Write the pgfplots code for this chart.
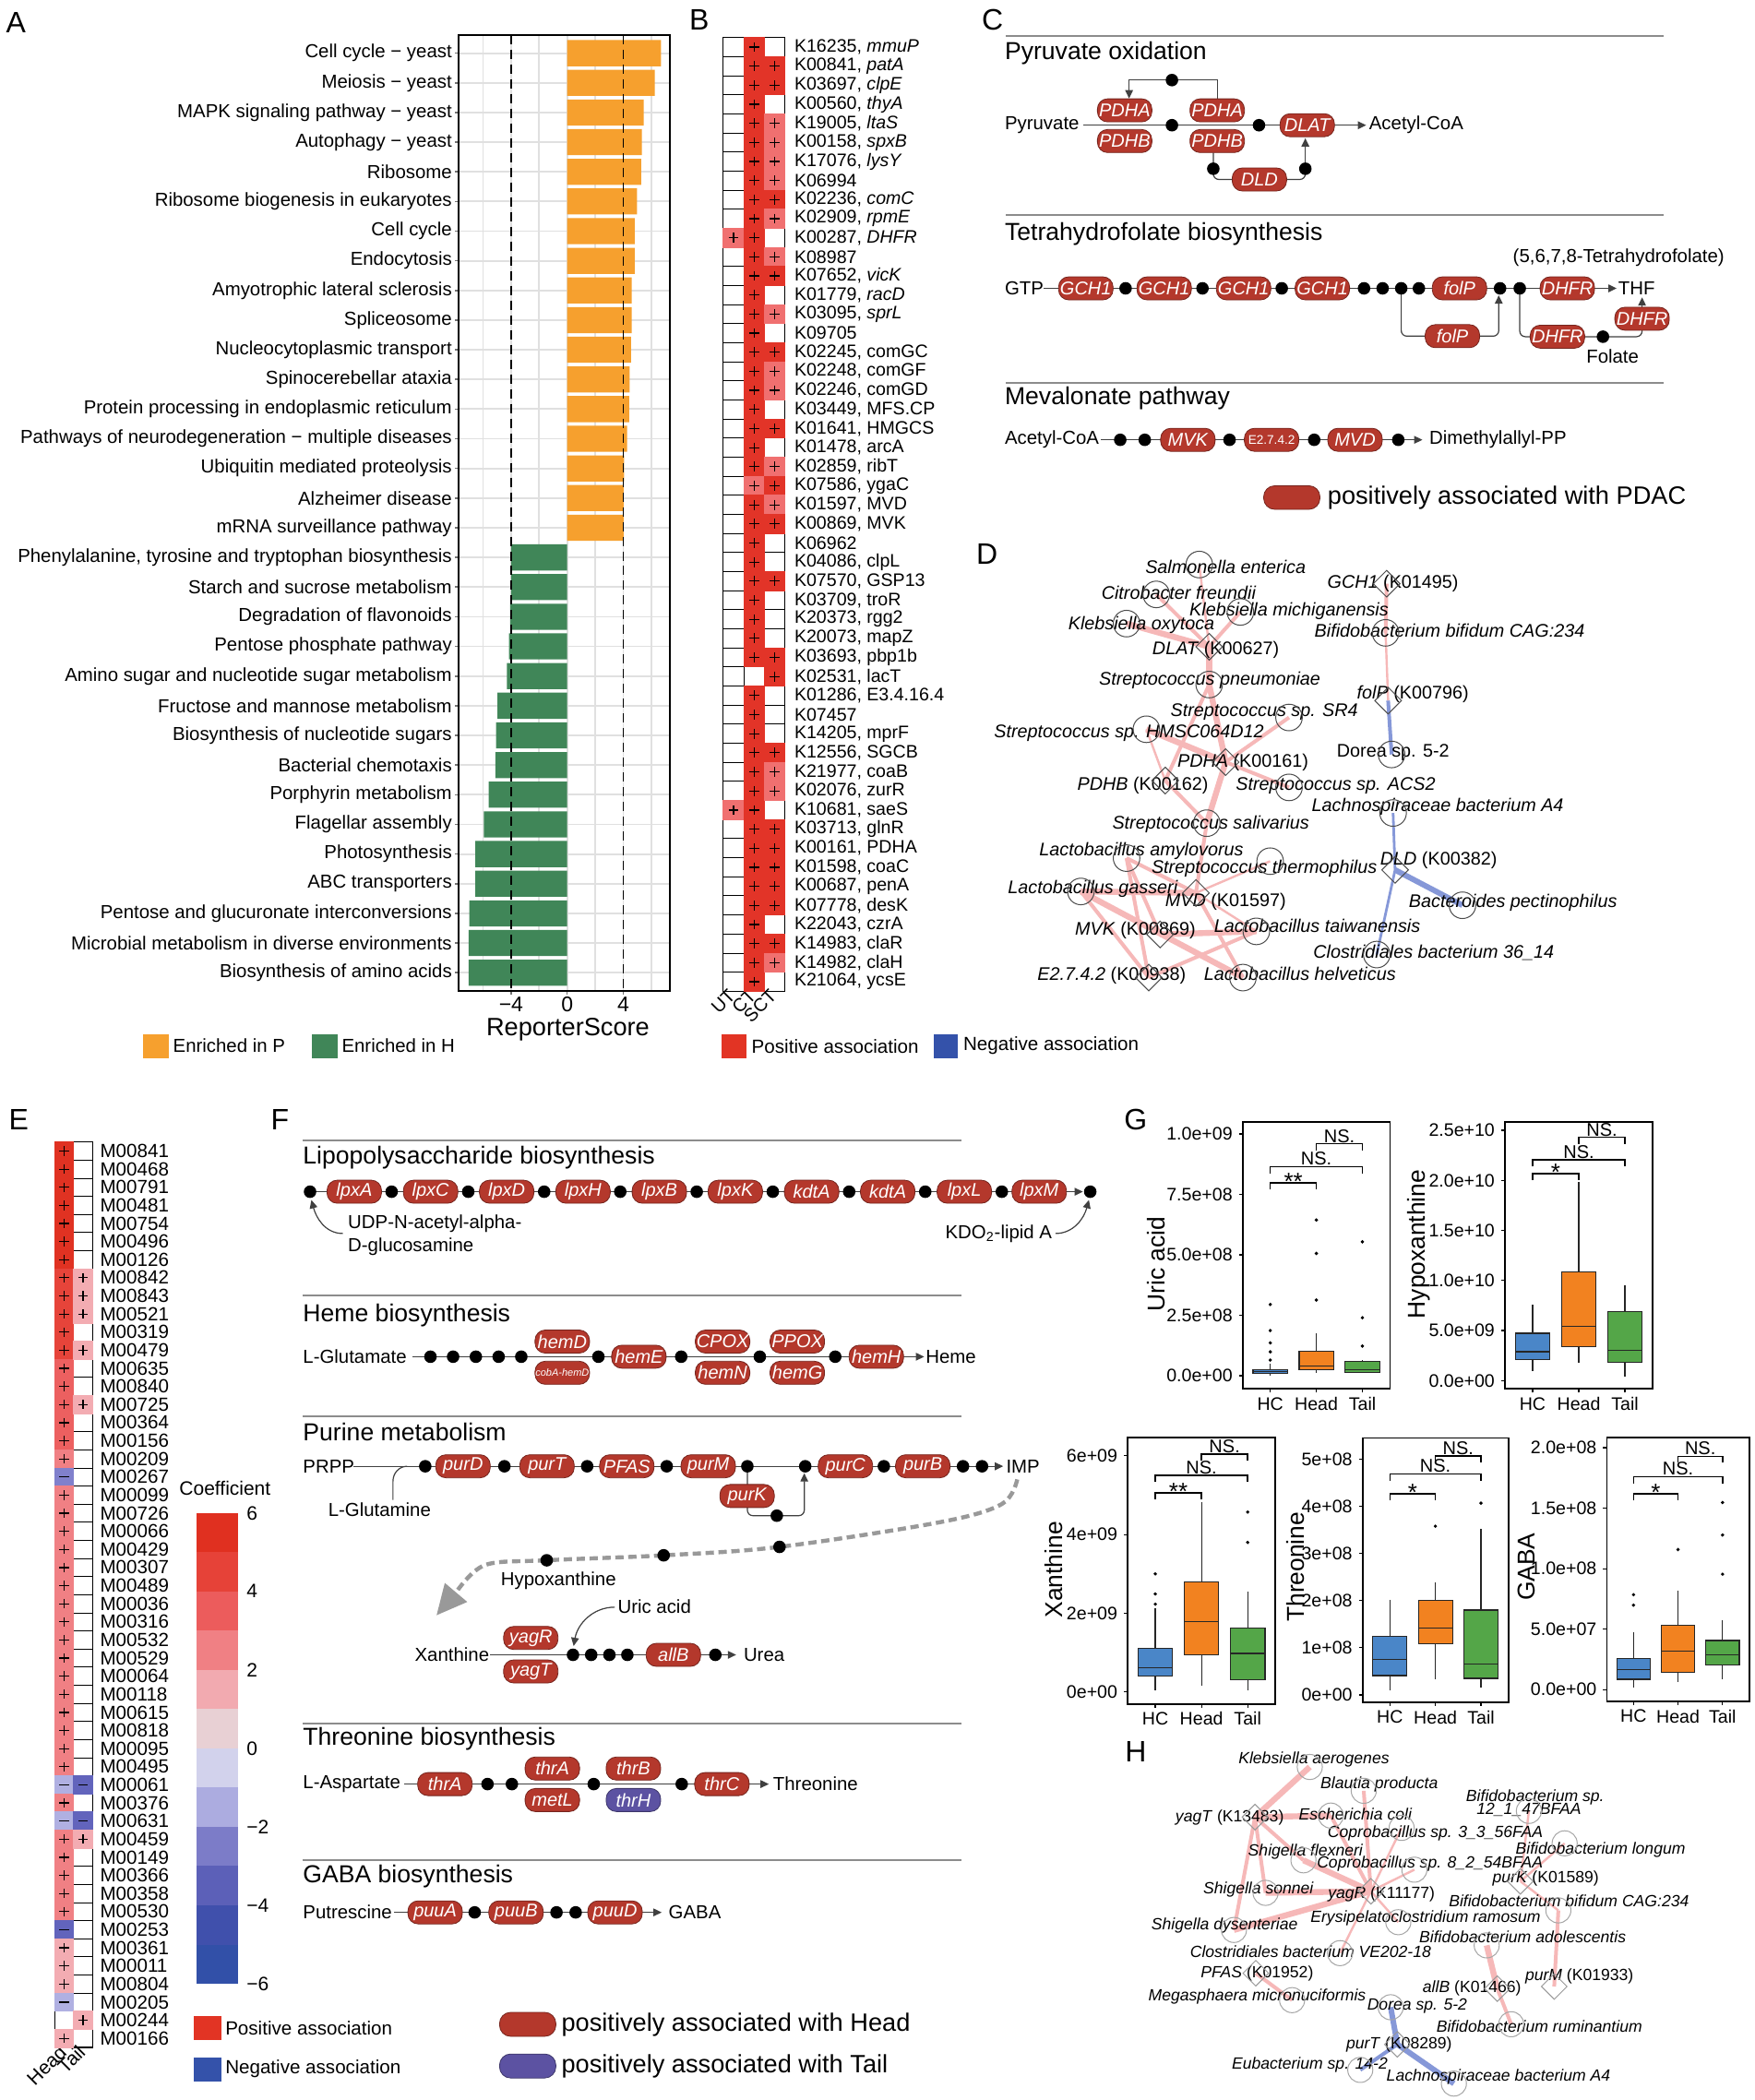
\documentclass[border=0pt]{standalone}
\usepackage{fontspec}
\setmainfont{Liberation Sans}
\setsansfont{Liberation Sans}
\usepackage{pgfplots}
\usepackage{pgfplotstable}
\pgfplotsset{compat=1.18}
\usepgfplotslibrary{statistics}
\usetikzlibrary{arrows.meta}

\newcommand\fs[1]{\fontsize{#1}{#1}\selectfont}

\definecolor{Aor}{RGB}{246,160,46}
\definecolor{Agr}{RGB}{64,134,88}
\definecolor{cD}{RGB}{226,52,40}
\definecolor{cL}{RGB}{240,112,112}
\definecolor{posR}{RGB}{226,52,36}
\definecolor{negB}{RGB}{52,82,170}
\definecolor{p6}{RGB}{224,50,34}
\definecolor{p5}{RGB}{230,68,58}
\definecolor{p4}{RGB}{236,96,96}
\definecolor{p3}{RGB}{240,128,132}
\definecolor{p2}{RGB}{243,172,178}
\definecolor{n2}{RGB}{176,176,226}
\definecolor{n3}{RGB}{128,128,204}
\definecolor{n4}{RGB}{98,100,188}
\definecolor{cb1}{RGB}{224,48,32}
\definecolor{cb2}{RGB}{230,66,56}
\definecolor{cb3}{RGB}{236,92,92}
\definecolor{cb4}{RGB}{240,128,132}
\definecolor{cb5}{RGB}{242,170,176}
\definecolor{cb6}{RGB}{232,208,212}
\definecolor{cb7}{RGB}{210,210,236}
\definecolor{cb8}{RGB}{172,172,224}
\definecolor{cb9}{RGB}{124,124,200}
\definecolor{cb10}{RGB}{92,96,184}
\definecolor{cb11}{RGB}{64,80,172}
\definecolor{cb12}{RGB}{50,80,168}
\definecolor{pillR}{RGB}{180,56,44}
\definecolor{pillB}{RGB}{92,82,162}
\definecolor{gB}{RGB}{74,134,200}
\definecolor{gO}{RGB}{242,130,32}
\definecolor{gG}{RGB}{84,166,72}
\definecolor{eP}{RGB}{246,184,184}
\definecolor{eB}{RGB}{134,152,216}

% panel B: cells with an association (x: 0=UT 1=CT 2=SCT, y: row, c: d=strong l=weak)
\pgfplotstableread[row sep=\\]{
x y c\\
0 11 l\\ 0 41 l\\
1 1 d\\ 1 2 d\\ 1 3 d\\ 1 4 d\\ 1 5 d\\ 1 6 d\\ 1 7 d\\ 1 8 d\\ 1 9 d\\ 1 10 d\\
1 11 d\\ 1 12 d\\ 1 13 d\\ 1 14 d\\ 1 15 d\\ 1 16 d\\ 1 17 d\\ 1 18 d\\ 1 19 d\\ 1 20 d\\
1 21 d\\ 1 22 d\\ 1 23 d\\ 1 24 l\\ 1 25 d\\ 1 26 d\\ 1 27 d\\ 1 28 d\\ 1 29 d\\ 1 30 d\\
1 31 d\\ 1 32 d\\ 1 33 d\\ 1 35 d\\ 1 36 d\\ 1 37 d\\ 1 38 d\\ 1 39 d\\ 1 40 d\\
1 41 d\\ 1 42 d\\ 1 43 d\\ 1 44 d\\ 1 45 d\\ 1 46 d\\ 1 47 d\\ 1 48 d\\ 1 49 d\\ 1 50 d\\
2 2 d\\ 2 3 d\\ 2 5 l\\ 2 6 l\\ 2 7 l\\ 2 8 l\\ 2 9 d\\ 2 10 l\\ 2 12 l\\ 2 13 d\\
2 15 l\\ 2 17 d\\ 2 18 l\\ 2 19 l\\ 2 21 d\\ 2 23 l\\ 2 24 d\\ 2 25 l\\ 2 26 d\\ 2 29 d\\
2 33 d\\ 2 34 d\\ 2 38 d\\ 2 39 l\\ 2 40 l\\ 2 42 d\\ 2 43 d\\ 2 44 d\\ 2 45 d\\ 2 46 d\\
2 48 d\\ 2 49 l\\
}\Bcells

% panel E: coefficient class per cell (x: 0=Head 1=Tail)
\pgfplotstableread[row sep=\\]{
x y c\\
0 1 p6\\ 0 2 p6\\ 0 3 p6\\ 0 4 p6\\ 0 5 p6\\ 0 6 p6\\ 0 7 p6\\
0 8 p5\\ 0 9 p5\\ 0 10 p5\\ 0 11 p5\\ 0 12 p5\\
0 13 p4\\ 0 14 p4\\ 0 15 p4\\ 0 16 p4\\ 0 17 p4\\ 0 18 p3\\ 0 19 n3\\
0 20 p3\\ 0 21 p3\\ 0 22 p3\\ 0 23 p3\\ 0 24 p3\\ 0 25 p3\\ 0 26 p3\\ 0 27 p3\\
0 28 p3\\ 0 29 p3\\ 0 30 p3\\ 0 31 p3\\ 0 32 p3\\ 0 33 p3\\ 0 34 p3\\ 0 35 p3\\
0 36 n2\\ 0 37 p3\\ 0 38 n2\\ 0 39 p3\\ 0 40 p3\\ 0 41 p3\\ 0 42 p3\\ 0 43 p3\\
0 44 n4\\ 0 45 p2\\ 0 46 p2\\ 0 47 p2\\ 0 48 n2\\ 0 50 p2\\
1 8 p2\\ 1 9 p2\\ 1 10 p2\\ 1 12 p2\\ 1 15 p2\\ 1 36 n4\\ 1 38 n4\\ 1 39 p2\\ 1 49 p2\\
}\Ecells

\pgfplotsset{
  gst/.style={scale only axis, xmin=0.4, xmax=3.6, xtick={1,2,3}, xticklabels={HC,Head,Tail},
    tick align=outside, tick pos=left, major tick length=2pt,
    tick style={black, line width=0.6pt}, axis line style={black, line width=0.9pt},
    clip=false, ticklabel style={font=\fs{9.8}}, xticklabel style={yshift=1pt},
    boxplot/draw direction=y, boxplot/box extend=0.75, boxplot/whisker extend=0},
  gbx/.style={fill=#1, draw=black!85, line width=0.6pt, mark=*, mark size=0.55pt,
    mark options={fill=black, draw=black}},
  eT/.style={color=eP, line width=3.2pt, no markers},
  eM/.style={color=eP, line width=2pt, no markers},
  eS/.style={color=eP, line width=1.2pt, no markers},
  bT/.style={color=eB, line width=3pt, no markers},
  bM/.style={color=eB, line width=2pt, no markers},
  bS/.style={color=eB, line width=1.4pt, no markers},
  nC/.style={only marks, mark=o, mark size=7.2pt, mark options={draw=black!70, line width=0.5pt}},
  nD/.style={only marks, mark=square, mark size=5.1pt, mark options={rotate=45, draw=black!70, line width=0.5pt}},
  nCh/.style={only marks, mark=o, mark size=6.8pt, mark options={draw=black!35, line width=0.5pt}},
  nDh/.style={only marks, mark=square, mark size=4.9pt, mark options={rotate=45, draw=black!40, line width=0.5pt}},
}

\begin{document}
\begin{tikzpicture}[x=0.726pt, y=-0.726pt,
  lbl/.style={font=\fs{16}, inner sep=0pt},
  ttl/.style={font=\fs{13.3}, anchor=west, inner sep=0pt},
  sub/.style={font=\fs{10.2}, inner sep=0pt},
  sep/.style={draw=black!45, line width=0.9pt},
  ln/.style={draw=black!75, line width=0.6pt},
  pill/.style={rectangle, rounded corners=5.5pt, fill=pillR, draw=pillR!65!black, line width=0.4pt,
    text=white, font=\itshape\fs{10}, minimum width=29.5pt, minimum height=12.5pt, inner sep=0pt},
  dot/.style={circle, fill=black, inner sep=0pt, minimum size=6.8pt},
  dl/.style={font=\itshape\fs{9.9}, inner sep=0pt},
  dg/.style={font=\fs{9.9}, inner sep=0pt},
  hl/.style={font=\itshape\fs{8.8}, inner sep=0pt},
  hg/.style={font=\fs{8.8}, inner sep=0pt},
  >={Triangle[length=4.5pt,width=4.2pt]}]
\useasboundingbox (0,0) rectangle (1310,1568);
\fill[white] (0,0) rectangle (1310,1568);

%% ---------------- A
\node[lbl] at (12,17) {A};
\coordinate (pA) at (342.5,740);
\begin{axis}[at={(pA)}, anchor=south west, scale only axis,
  width=114.3pt, height=518.4pt,
  xmin=-7.73, xmax=7.3, ymin=0.38, ymax=32.62, y dir=reverse,
  xtick={-4,0,4}, xticklabels={−4,0,4}, minor xtick={-6,-2,2,6},
  ytick={1,...,32},
  yticklabels={Cell cycle − yeast, Meiosis − yeast, MAPK signaling pathway − yeast,
    Autophagy − yeast, Ribosome, Ribosome biogenesis in eukaryotes, Cell cycle, Endocytosis,
    Amyotrophic lateral sclerosis, Spliceosome, Nucleocytoplasmic transport,
    Spinocerebellar ataxia, Protein processing in endoplasmic reticulum,
    Pathways of neurodegeneration − multiple diseases, Ubiquitin mediated proteolysis,
    Alzheimer disease, mRNA surveillance pathway,
    {Phenylalanine, tyrosine and tryptophan biosynthesis}, Starch and sucrose metabolism,
    Degradation of flavonoids, Pentose phosphate pathway,
    Amino sugar and nucleotide sugar metabolism, Fructose and mannose metabolism,
    Biosynthesis of nucleotide sugars, Bacterial chemotaxis, Porphyrin metabolism,
    Flagellar assembly, Photosynthesis, ABC transporters,
    Pentose and glucuronate interconversions, Microbial metabolism in diverse environments,
    Biosynthesis of amino acids},
  xmajorgrids, xminorgrids, ymajorgrids,
  major grid style={draw=black!12, line width=0.9pt},
  minor grid style={draw=black!12, line width=0.9pt},
  tick align=outside, tick pos=left, major tick length=2pt, minor tick length=0pt,
  tick style={black!55, line width=0.8pt},
  axis line style={black, line width=1pt},
  yticklabel style={font=\fs{10.2}, inner sep=1.5pt},
  xticklabel style={font=\fs{11.5}, inner sep=1pt},
  clip=false]
\addplot[xbar, bar width=0.88, bar shift=0pt, fill=Aor, draw=none] coordinates {
  (6.69,1) (6.24,2) (5.45,3) (5.33,4) (5.27,5) (4.97,6) (4.82,7) (4.82,8) (4.6,9)
  (4.6,10) (4.55,11) (4.45,12) (4.42,13) (4.27,14) (4.06,15) (4.03,16) (4.03,17)};
\addplot[xbar, bar width=0.88, bar shift=0pt, fill=Agr, draw=none] coordinates {
  (-4.0,18) (-4.0,19) (-4.06,20) (-4.15,21) (-4.3,22) (-4.97,23) (-5.06,24) (-5.12,25)
  (-5.6,26) (-5.94,27) (-6.55,28) (-6.55,29) (-6.97,30) (-7.03,31) (-7.03,32)};
\draw[black, line width=0.8pt, dash pattern=on 5pt off 3pt] (axis cs:-4,0.38) -- (axis cs:-4,32.62);
\draw[black, line width=0.8pt, dash pattern=on 5pt off 3pt] (axis cs:4,0.38) -- (axis cs:4,32.62);
\end{axis}
\node[font=\fs{13.6}] at (424,768.5) {ReporterScore};
\fill[Aor] (107,772) rectangle (126,790);
\node[anchor=west, font=\fs{10.2}, inner sep=0pt] at (129,781) {Enriched in P};
\fill[Agr] (233,772) rectangle (252,790);
\node[anchor=west, font=\fs{10.2}, inner sep=0pt] at (255,781) {Enriched in H};

%% ---------------- B
\node[lbl] at (522,15) {B};
\coordinate (pB) at (540,740.1);
\begin{axis}[at={(pB)}, anchor=south west, scale only axis,
  width=33.4pt, height=517.0pt,
  xmin=-0.5, xmax=2.5, ymin=0.5, ymax=50.5, y dir=reverse,
  axis on top, clip=false,
  axis line style={black, line width=0.6pt},
  xtick={0,1,2}, xticklabels={UT,CT,SCT},
  minor xtick={0.5,1.5}, minor ytick={1.5,2.5,...,49.5},
  xminorgrids, yminorgrids, minor grid style={black, line width=0.45pt},
  major tick length=0pt, minor tick length=0pt,
  xticklabel style={font=\fs{10}, rotate=45, anchor=east, inner sep=1pt},
  ytick={1,...,50}, yticklabel pos=right,
  yticklabel style={font=\fs{9.8}, anchor=west, xshift=5pt, inner sep=0pt},
  yticklabels={{K16235, \textit{mmuP}}, {K00841, \textit{patA}}, {K03697, \textit{clpE}},
    {K00560, \textit{thyA}}, {K19005, \textit{ltaS}}, {K00158, \textit{spxB}},
    {K17076, \textit{lysY}}, K06994, {K02236, \textit{comC}}, {K02909, \textit{rpmE}},
    {K00287, \textit{DHFR}}, K08987, {K07652, \textit{vicK}}, {K01779, \textit{racD}},
    {K03095, \textit{sprL}}, K09705, {K02245, comGC}, {K02248, comGF}, {K02246, comGD},
    {K03449, MFS.CP}, {K01641, HMGCS}, {K01478, arcA}, {K02859, ribT}, {K07586, ygaC},
    {K01597, MVD}, {K00869, MVK}, K06962, {K04086, clpL}, {K07570, GSP13},
    {K03709, troR}, {K20373, rgg2}, {K20073, mapZ}, {K03693, pbp1b}, {K02531, lacT},
    {K01286, E3.4.16.4}, K07457, {K14205, mprF}, {K12556, SGCB}, {K21977, coaB},
    {K02076, zurR}, {K10681, saeS}, {K03713, glnR}, {K00161, PDHA}, {K01598, coaC},
    {K00687, penA}, {K07778, desK}, {K22043, czrA}, {K14983, claR}, {K14982, claH},
    {K21064, ycsE}}]
\addplot[scatter, only marks, scatter src=explicit symbolic, mark=square*, mark size=5.17pt,
  mark options={xscale=1.076},
  scatter/classes={d={draw=cD, fill=cD}, l={draw=cL, fill=cL}}] table[meta=c] {\Bcells};
\addplot[only marks, mark=+, mark size=2.7pt, black, line width=0.6pt] table[x=x, y=y] {\Bcells};
\end{axis}
\fill[posR] (539,772) rectangle (557,790);
\node[anchor=west, font=\fs{10.3}, inner sep=0pt] at (561,781) {Positive association};
\fill[negB] (697,772) rectangle (715,790);
\node[anchor=west, font=\fs{10.3}, inner sep=0pt] at (719,781) {Negative association};

%% ---------------- C
\node[lbl] at (741,15) {C};
\draw[sep] (751,26.6) -- (1242,26.6);
\node[ttl] at (750,39.4) {Pyruvate oxidation};
\node[sub,anchor=west] at (750,93.5) {Pyruvate};
\draw[ln] (809,93.5) -- (996,93.5);
\draw[ln,->] (996,93.5) -- (1020,93.5);
\node[sub,anchor=west] at (1022,93.5) {Acetyl-CoA};
\draw[ln,->] (908.8,74) -- (908.8,59.8) -- (843,59.8) -- (843,73.5);
\node[dot] at (875,59.8) {};
\draw[ln,rounded corners=3pt] (905.9,114) -- (905.9,134) -- (974.6,134) -- (974.6,126);
\draw[ln,->] (974.6,126) -- (974.6,103.2);
\node[pill] at (839.7,82.4) {PDHA};
\node[pill] at (839.7,105.3) {PDHB};
\node[dot] at (875,93.5) {};
\node[pill] at (908.8,82.4) {PDHA};
\node[pill] at (908.8,105.3) {PDHB};
\node[dot] at (940,93.5) {};
\node[pill] at (976,93.5) {DLAT};
\node[dot] at (905.9,126) {};
\node[dot] at (974.6,126) {};
\node[pill] at (940.3,134) {DLD};

\draw[sep] (751,160.4) -- (1242,160.4);
\node[ttl] at (750,175) {Tetrahydrofolate biosynthesis};
\node[sub] at (1208.5,192.4) {(5,6,7,8-Tetrahydrofolate)};
\node[sub,anchor=west] at (750,215.3) {GTP};
\draw[ln] (779,215.3) -- (1191,215.3);
\draw[ln,->] (1191,215.3) -- (1207,215.3);
\node[sub,anchor=west] at (1208,215.3) {THF};
\draw[ln,rounded corners=3pt,->] (1046.2,215.3) -- (1046.2,251) -- (1119,251) -- (1119,220.5);
\draw[ln,rounded corners=3pt] (1134.7,215.3) -- (1134.7,251.4) -- (1226,251.4) -- (1226,240);
\draw[ln,->] (1226,230) -- (1226,222);
\foreach \xx in {840.4,897.8,957,1018.4,1032.3,1046.2,1059.4,1120,1134.7} {\node[dot] at (\xx,215.3) {};}
\foreach \xx/\g in {810.7/GCH1,869.2/GCH1,928.5/GCH1,987.3/GCH1,1089.7/folP,1170.2/DHFR} {\node[pill] at (\xx,215.3) {\g};}
\node[pill] at (1084.4,251) {folP};
\node[pill] at (1162.8,251.4) {DHFR};
\node[dot] at (1196.8,251.4) {};
\node[pill] at (1226,238) {DHFR};
\node[sub] at (1204,266) {Folate};

\draw[sep] (751,285.9) -- (1242,285.9);
\node[ttl] at (750,297.7) {Mevalonate pathway};
\node[sub,anchor=west] at (750,328.4) {Acetyl-CoA};
\draw[ln] (822,328.4) -- (1046,328.4);
\draw[ln,->] (1046,328.4) -- (1062,328.4);
\node[sub,anchor=west] at (1067,328.4) {Dimethylallyl-PP};
\foreach \xx in {836.4,854.7,918,981.2,1044} {\node[dot] at (\xx,328.4) {};}
\node[pill] at (886.9,328.4) {MVK};
\node[pill,font=\fs{6.8}] at (949.4,328.4) {E2.7.4.2};
\node[pill] at (1011.7,328.4) {MVD};
\node[pill,minimum width=30.5pt,minimum height=12.8pt,rounded corners=6pt] at (964.5,371.5) {};
\node[anchor=west, font=\fs{13.6}, inner sep=0pt] at (991,371.5) {positively associated with PDAC};

%% ---------------- E
\node[lbl] at (14,836) {E};
\coordinate (pE) at (41,1528.7);
\begin{axis}[at={(pE)}, anchor=south west, scale only axis,
  width=20.33pt, height=490.8pt,
  xmin=-0.5, xmax=1.5, ymin=0.5, ymax=50.5, y dir=reverse,
  axis on top, clip=false,
  axis line style={black, line width=0.6pt},
  xtick={0,1}, xticklabels={Head,Tail},
  minor xtick={0.5}, minor ytick={1.5,2.5,...,49.5},
  xminorgrids, yminorgrids, minor grid style={black, line width=0.45pt},
  major tick length=0pt, minor tick length=0pt,
  xticklabel style={font=\fs{10.5}, rotate=45, anchor=east, inner sep=1pt},
  ytick={1,...,50}, yticklabel pos=right,
  yticklabel style={font=\fs{10.3}, anchor=west, xshift=4pt, inner sep=0pt},
  yticklabels={M00841,M00468,M00791,M00481,M00754,M00496,M00126,M00842,M00843,M00521,
    M00319,M00479,M00635,M00840,M00725,M00364,M00156,M00209,M00267,M00099,
    M00726,M00066,M00429,M00307,M00489,M00036,M00316,M00532,M00529,M00064,
    M00118,M00615,M00818,M00095,M00495,M00061,M00376,M00631,M00459,M00149,
    M00366,M00358,M00530,M00253,M00361,M00011,M00804,M00205,M00244,M00166}]
\addplot[scatter, only marks, scatter src=explicit symbolic, mark=square*, mark size=4.91pt,
  mark options={xscale=1.035},
  scatter/classes={p6={draw=p6,fill=p6}, p5={draw=p5,fill=p5}, p4={draw=p4,fill=p4},
    p3={draw=p3,fill=p3}, p2={draw=p2,fill=p2}, n2={draw=n2,fill=n2},
    n3={draw=n3,fill=n3}, n4={draw=n4,fill=n4}}] table[meta=c] {\Ecells};
\addplot[scatter, only marks, scatter src=explicit symbolic, mark size=2.6pt, line width=0.6pt,
  scatter/classes={p6={mark=+,black}, p5={mark=+,black}, p4={mark=+,black},
    p3={mark=+,black}, p2={mark=+,black}, n2={mark=-,black}, n3={mark=-,black},
    n4={mark=-,black}}] table[meta=c] {\Ecells};
\end{axis}
\node[font=\fs{10.5}] at (168,1111) {Coefficient};
\foreach \c [count=\i from 0] in {cb1,cb2,cb3,cb4,cb5,cb6,cb7,cb8,cb9,cb10,cb11,cb12}
  {\fill[\c] (147,{1129.6+29.3*\i}) rectangle (178,{1129.6+29.3*\i+29.6});}
\foreach \yy/\t in {1130/6,1188.2/4,1246.8/2,1305.4/0,1364/−2,1422.6/−4,1481.2/−6}
  {\node[anchor=west, font=\fs{10.5}, inner sep=0pt] at (184,\yy) {\t};}
\fill[posR] (145,1505) rectangle (165,1523);
\node[anchor=west, font=\fs{10.3}, inner sep=0pt] at (168,1514) {Positive association};
\fill[negB] (145,1536) rectangle (165,1554);
\node[anchor=west, font=\fs{10.3}, inner sep=0pt] at (168,1545) {Negative association};

%% ---------------- F
\node[lbl] at (209,836) {F};
\foreach \yy in {851.7,967.2,1057.3,1286.7,1389} {\draw[sep] (226,\yy) -- (717.7,\yy);}
\node[ttl] at (226,864) {Lipopolysaccharide biosynthesis};
\node[ttl] at (226,982) {Heme biosynthesis};
\node[ttl] at (226,1068.9) {Purine metabolism};
\node[ttl] at (226,1298.4) {Threonine biosynthesis};
\node[ttl] at (226,1401.3) {GABA biosynthesis};
% lipopolysaccharide
\draw[ln] (231.5,889.8) -- (796,889.8);
\draw[ln,->] (796,889.8) -- (808.5,889.8);
\foreach \xx in {231.5,292.4,349.6,406.3,463.1,520.2,577,634,690.8,748,814} {\node[dot] at (\xx,889.8) {};}
\foreach \xx/\g in {264.5/lpxA,321.5/lpxC,378.3/lpxD,435.3/lpxH,492.3/lpxB,549/lpxK,606/kdtA,662.8/kdtA,720/lpxL,775.9/lpxM} {\node[pill] at (\xx,889.8) {\g};}
\node[sub,anchor=west] at (259.6,913.7) {UDP-N-acetyl-alpha-};
\node[sub,anchor=west] at (259.6,931) {D-glucosamine};
\draw[ln,->] (256,921) to[out=180,in=-75] (232.5,896);
\node[sub,anchor=east] at (785.7,921) {KDO\textsubscript{2}-lipid A};
\draw[ln,->] (788,921) to[out=0,in=-105] (813,896);
% heme
\node[sub,anchor=west] at (226,1013) {L-Glutamate};
\draw[ln] (308,1013) -- (675,1013);
\draw[ln,->] (675,1013) -- (690,1013);
\node[sub,anchor=west] at (691,1013) {Heme};
\foreach \xx in {321.4,338.3,355.3,372.3,389.2,446.8,508.6,567.3,623.6} {\node[dot] at (\xx,1013) {};}
\node[pill] at (419.8,1001.7) {hemD};
\node[pill,font=\itshape\fs{5.5}] at (419.8,1025) {cobA-hemD};
\node[pill] at (477,1013) {hemE};
\node[pill] at (539.5,1001.7) {CPOX};
\node[pill] at (539.5,1025) {hemN};
\node[pill] at (595.3,1001.7) {PPOX};
\node[pill] at (595.3,1025) {hemG};
\node[pill] at (654.3,1013) {hemH};
% purine
\node[sub,anchor=west] at (226,1094.8) {PRPP};
\draw[ln] (264,1094.8) -- (733,1094.8);
\draw[ln,->] (733,1094.8) -- (749,1094.8);
\node[sub,anchor=west] at (751,1094.8) {IMP};
\draw[ln] (304,1094.8) to[out=180,in=90] (293.4,1106) -- (293.4,1120);
\node[sub] at (283.4,1127.5) {L-Glutamine};
\draw[ln,rounded corners=3pt,->] (558,1094.8) -- (558,1131.7) -- (600.5,1131.7) -- (600.5,1100);
\foreach \xx in {317.5,376.6,438.4,497.8,558,601.2,659.9,719,733.2} {\node[dot] at (\xx,1094.8) {};}
\node[dot] at (580,1131.7) {};
\foreach \xx/\g in {345.7/purD,408.4/purT,468/PFAS,528.8/purM,631.2/purC,689/purB} {\node[pill] at (\xx,1094.8) {\g};}
\node[pill] at (557.8,1117) {purK};
\draw[black!40, line width=2.2pt, dash pattern=on 4.5pt off 2.5pt] plot[smooth, tension=0.55] coordinates {(759.5,1104.6) (748,1123) (701.6,1136.6) (582,1155) (495.5,1161.3) (408.2,1165) (362,1168.6) (340.5,1189)};
\fill[black!40] (326,1206) -- (332.1,1181.9) -- (348.9,1196.1) -- cycle;
\foreach \p in {(582,1155),(495.5,1161.3),(408.2,1165)} {\node[dot] at \p {};}
\node[sub] at (417,1180.5) {Hypoxanthine};
\node[sub,anchor=west] at (461,1199.5) {Uric acid};
\draw[ln,->] (459,1200) to[out=180,in=80] (428.3,1229);
\node[sub,anchor=east] at (365.5,1235.6) {Xanthine};
\draw[ln] (366,1235.6) -- (534,1235.6);
\draw[ln,->] (534,1235.6) -- (549.6,1235.6);
\node[sub,anchor=west] at (555,1235.6) {Urea};
\foreach \xx in {427.8,441.4,455,468.4,534.1} {\node[dot] at (\xx,1235.6) {};}
\node[pill] at (396.3,1223) {yagR};
\node[pill] at (396.3,1248) {yagT};
\node[pill] at (502.8,1235.6) {allB};
% threonine
\node[sub,anchor=west] at (226,1332.1) {L-Aspartate};
\draw[ln] (302,1332.1) -- (559,1332.1);
\draw[ln,->] (559,1332.1) -- (574,1332.1);
\node[sub,anchor=west] at (577,1332.1) {Threonine};
\foreach \xx in {364,382.2,443.3,509} {\node[dot] at (\xx,1332.1) {};}
\node[pill] at (332.2,1332.1) {thrA};
\node[pill] at (412.4,1320.5) {thrA};
\node[pill] at (412.4,1344) {metL};
\node[pill] at (472.9,1320.5) {thrB};
\node[pill,fill=pillB,draw=pillB!65!black] at (472.9,1344) {thrH};
\node[pill] at (539,1332.1) {thrC};
% GABA
\node[sub,anchor=west] at (226,1427.9) {Putrescine};
\draw[ln] (294,1427.9) -- (479,1427.9);
\draw[ln,->] (479,1427.9) -- (494,1427.9);
\node[sub,anchor=west] at (499,1427.9) {GABA};
\foreach \xx in {354.4,415.5,429.8} {\node[dot] at (\xx,1427.9) {};}
\node[pill] at (324.9,1427.9) {puuA};
\node[pill] at (385.3,1427.9) {puuB};
\node[pill] at (459.2,1427.9) {puuD};
\node[pill,minimum width=30.5pt,minimum height=13pt,rounded corners=6pt] at (394,1511.5) {};
\node[anchor=west, font=\fs{13.6}, inner sep=0pt] at (419,1511.5) {positively associated with Head};
\node[pill,fill=pillB,draw=pillB!65!black,minimum width=30.5pt,minimum height=13pt,rounded corners=6pt] at (394,1542.6) {};
\node[anchor=west, font=\fs{13.6}, inner sep=0pt] at (419,1542.6) {positively associated with Tail};

%% ---------------- G
\node[lbl] at (848,836) {G};
% Uric acid, values in units of 1e8
\coordinate (pG1) at (927.8,1037);
\begin{axis}[gst, at={(pG1)}, anchor=south west, width=79.9pt, height=144.5pt,
  ymin=-0.54, ymax=10.48, ytick={0,2.5,5,7.5,10},
  yticklabels={0.0e+00,2.5e+08,5.0e+08,7.5e+08,1.0e+09}]
\addplot[gbx=gB, boxplot prepared={draw position=1, lower whisker=0.02, lower quartile=0.085,
  median=0.17, upper quartile=0.26, upper whisker=0.5}]
  table[row sep=\\, y index=0] {v\\ 2.95\\ 1.87\\ 1.36\\ 0.99\\ 0.65\\};
\addplot[gbx=gO, boxplot prepared={draw position=2, lower whisker=0.12, lower quartile=0.256,
  median=0.39, upper quartile=1.02, upper whisker=1.75}]
  table[row sep=\\, y index=0] {v\\ 6.44\\ 5.06\\ 3.13\\};
\addplot[gbx=gG, boxplot prepared={draw position=3, lower whisker=0.12, lower quartile=0.15,
  median=0.26, upper quartile=0.6, upper whisker=0.65}]
  table[row sep=\\, y index=0] {v\\ 5.54\\ 2.4\\ 1.23\\};
\draw[line width=0.7pt] (axis cs:1,7.69) -- (axis cs:1,7.97) -- (axis cs:2,7.97) -- (axis cs:2,7.69);
\draw[line width=0.7pt] (axis cs:1,8.36) -- (axis cs:1,8.64) -- (axis cs:3,8.64) -- (axis cs:3,8.36);
\draw[line width=0.7pt] (axis cs:2,9.31) -- (axis cs:2,9.59) -- (axis cs:3,9.59) -- (axis cs:3,9.31);
\node[font=\fs{13}, anchor=south, inner sep=0pt, yshift=-4pt] at (axis cs:1.5,7.97) {**};
\node[font=\fs{10}, anchor=south, inner sep=0.5pt] at (axis cs:2,8.64) {NS.};
\node[font=\fs{10}, anchor=south, inner sep=0.5pt] at (axis cs:2.5,9.59) {NS.};
\end{axis}
% Hypoxanthine, units of 1e9
\coordinate (pG2) at (1123.6,1037);
\begin{axis}[gst, at={(pG2)}, anchor=south west, width=80.1pt, height=144.5pt,
  ymin=-0.82, ymax=25.8, ytick={0,5,10,15,20,25},
  yticklabels={0.0e+00,5.0e+09,1.0e+10,1.5e+10,2.0e+10,2.5e+10}]
\addplot[gbx=gB, boxplot prepared={draw position=1, lower whisker=0.95, lower quartile=2.1,
  median=2.88, upper quartile=4.74, upper whisker=7.62}] coordinates {};
\addplot[gbx=gO, boxplot prepared={draw position=2, lower whisker=1.81, lower quartile=3.42,
  median=5.4, upper quartile=10.87, upper whisker=19.85}] coordinates {};
\addplot[gbx=gG, boxplot prepared={draw position=3, lower whisker=0.37, lower quartile=1.81,
  median=3.0, upper quartile=6.92, upper whisker=9.51}] coordinates {};
\draw[line width=0.7pt] (axis cs:1,20.01) -- (axis cs:1,20.68) -- (axis cs:2,20.68) -- (axis cs:2,20.01);
\draw[line width=0.7pt] (axis cs:1,21.37) -- (axis cs:1,22.04) -- (axis cs:3,22.04) -- (axis cs:3,21.37);
\draw[line width=0.7pt] (axis cs:2,23.63) -- (axis cs:2,24.3) -- (axis cs:3,24.3) -- (axis cs:3,23.63);
\node[font=\fs{13}, anchor=south, inner sep=0pt, yshift=-4pt] at (axis cs:1.5,20.68) {*};
\node[font=\fs{10}, anchor=south, inner sep=0.5pt] at (axis cs:2,22.04) {NS.};
\node[font=\fs{10}, anchor=south, inner sep=0.5pt] at (axis cs:2.5,24.3) {NS.};
\end{axis}
% Xanthine, units of 1e9
\coordinate (pG3) at (841.9,1272.2);
\begin{axis}[gst, at={(pG3)}, anchor=south west, width=80.1pt, height=144.2pt,
  ymin=-0.303, ymax=6.457, ytick={0,2,4,6}, yticklabels={0e+00,2e+09,4e+09,6e+09}]
\addplot[gbx=gB, boxplot prepared={draw position=1, lower whisker=0.03, lower quartile=0.40,
  median=0.61, upper quartile=1.11, upper whisker=2.13}]
  table[row sep=\\, y index=0] {v\\ 3.0\\ 2.49\\ 2.23\\};
\addplot[gbx=gO, boxplot prepared={draw position=2, lower whisker=0.16, lower quartile=0.94,
  median=1.78, upper quartile=2.79, upper whisker=4.83}] coordinates {};
\addplot[gbx=gG, boxplot prepared={draw position=3, lower whisker=0.03, lower quartile=0.31,
  median=0.98, upper quartile=1.63, upper whisker=2.54}]
  table[row sep=\\, y index=0] {v\\ 4.57\\ 3.8\\};
\draw[line width=0.7pt] (axis cs:1,4.89) -- (axis cs:1,5.06) -- (axis cs:2,5.06) -- (axis cs:2,4.89);
\draw[line width=0.7pt] (axis cs:1,5.33) -- (axis cs:1,5.5) -- (axis cs:3,5.5) -- (axis cs:3,5.33);
\draw[line width=0.7pt] (axis cs:2,5.87) -- (axis cs:2,6.04) -- (axis cs:3,6.04) -- (axis cs:3,5.87);
\node[font=\fs{13}, anchor=south, inner sep=0pt, yshift=-4pt] at (axis cs:1.5,5.06) {**};
\node[font=\fs{10}, anchor=south, inner sep=0.5pt] at (axis cs:2,5.5) {NS.};
\node[font=\fs{10}, anchor=south, inner sep=0.5pt] at (axis cs:2.5,6.04) {NS.};
\end{axis}
% Threonine, units of 1e8
\coordinate (pG4) at (1017.3,1271);
\begin{axis}[gst, at={(pG4)}, anchor=south west, width=79pt, height=143.3pt,
  ymin=-0.156, ymax=5.455, ytick={0,1,2,3,4,5},
  yticklabels={0e+00,1e+08,2e+08,3e+08,4e+08,5e+08}]
\addplot[gbx=gB, boxplot prepared={draw position=1, lower whisker=0.09, lower quartile=0.41,
  median=0.76, upper quartile=1.25, upper whisker=2.02}] coordinates {};
\addplot[gbx=gO, boxplot prepared={draw position=2, lower whisker=0.33, lower quartile=1.08,
  median=1.42, upper quartile=2.01, upper whisker=2.39}]
  table[row sep=\\, y index=0] {v\\ 3.58\\};
\addplot[gbx=gG, boxplot prepared={draw position=3, lower whisker=0.16, lower quartile=0.35,
  median=0.65, upper quartile=1.80, upper whisker=3.53}]
  table[row sep=\\, y index=0] {v\\ 4.07\\};
\draw[line width=0.7pt] (axis cs:1,4.13) -- (axis cs:1,4.27) -- (axis cs:2,4.27) -- (axis cs:2,4.13);
\draw[line width=0.7pt] (axis cs:1,4.55) -- (axis cs:1,4.69) -- (axis cs:3,4.69) -- (axis cs:3,4.55);
\draw[line width=0.7pt] (axis cs:2,4.93) -- (axis cs:2,5.07) -- (axis cs:3,5.07) -- (axis cs:3,4.93);
\node[font=\fs{13}, anchor=south, inner sep=0pt, yshift=-4pt] at (axis cs:1.5,4.27) {*};
\node[font=\fs{10}, anchor=south, inner sep=0.5pt] at (axis cs:2,4.69) {NS.};
\node[font=\fs{10}, anchor=south, inner sep=0.5pt] at (axis cs:2.5,5.07) {NS.};
\end{axis}
% GABA, units of 1e7
\coordinate (pG5) at (1199.7,1270.4);
\begin{axis}[gst, at={(pG5)}, anchor=south west, width=77.2pt, height=142.9pt,
  ymin=-0.986, ymax=20.82, ytick={0,5,10,15,20},
  yticklabels={0.0e+00,5.0e+07,1.0e+08,1.5e+08,2.0e+08}]
\addplot[gbx=gB, boxplot prepared={draw position=1, lower whisker=0.17, lower quartile=0.85,
  median=1.67, upper quartile=2.56, upper whisker=4.74}]
  table[row sep=\\, y index=0] {v\\ 7.84\\ 6.98\\};
\addplot[gbx=gO, boxplot prepared={draw position=2, lower whisker=0.65, lower quartile=1.43,
  median=3.2, upper quartile=5.3, upper whisker=8.2}]
  table[row sep=\\, y index=0] {v\\ 11.58\\};
\addplot[gbx=gG, boxplot prepared={draw position=3, lower whisker=0.85, lower quartile=2.01,
  median=2.9, upper quartile=4.05, upper whisker=5.76}]
  table[row sep=\\, y index=0] {v\\ 15.47\\ 12.78\\ 9.54\\};
\draw[line width=0.7pt] (axis cs:1,15.63) -- (axis cs:1,16.18) -- (axis cs:2,16.18) -- (axis cs:2,15.63);
\draw[line width=0.7pt] (axis cs:1,17.05) -- (axis cs:1,17.6) -- (axis cs:3,17.6) -- (axis cs:3,17.05);
\draw[line width=0.7pt] (axis cs:2,18.75) -- (axis cs:2,19.3) -- (axis cs:3,19.3) -- (axis cs:3,18.75);
\node[font=\fs{13}, anchor=south, inner sep=0pt, yshift=-4pt] at (axis cs:1.5,16.18) {*};
\node[font=\fs{10}, anchor=south, inner sep=0.5pt] at (axis cs:2,17.6) {NS.};
\node[font=\fs{10}, anchor=south, inner sep=0.5pt] at (axis cs:2.5,19.3) {NS.};
\end{axis}
\node[rotate=90, font=\fs{13.2}] at (863.5,944) {Uric acid};
\node[rotate=90, font=\fs{13.2}] at (1059,929) {Hypoxanthine};
\node[rotate=90, font=\fs{13.2}] at (787,1172) {Xanthine};
\node[rotate=90, font=\fs{13.2}] at (967,1170) {Threonine};
\node[rotate=90, font=\fs{13.2}] at (1140,1170) {GABA};

%% ---------------- D and H networks (canvas axis in page units)
\node[lbl] at (737,414) {D};
\node[lbl] at (848,1308) {H};
\coordinate (pO) at (0,0);
\begin{axis}[at={(pO)}, anchor=north west, scale only axis,
  width=951.06pt, height=1138.37pt,
  xmin=0, xmax=1310, ymin=0, ymax=1568, y dir=reverse, hide axis, clip=false]
% D edges
\addplot[eT] coordinates {(841.1,465.6) (902.8,482.9)};
\addplot[eT] coordinates {(902.8,482.9) (902.8,511.1)};
\addplot[eT] coordinates {(902.8,511.1) (915.1,569)};
\addplot[eT] coordinates {(855.9,544.5) (915.1,569)};
\addplot[eT] coordinates {(915.1,569) (901,614.6)};
\addplot[eT] coordinates {(807,665.6) (892.9,666.7)};
\addplot[eT] coordinates {(807,665.6) (928,729.9)};
\addplot[eT] coordinates {(866.2,697.7) (938,695.4)};
\addplot[eM] coordinates {(863.3,443.8) (902.8,482.9)};
\addplot[eM] coordinates {(926.1,456.9) (902.8,482.9)};
\addplot[eM] coordinates {(902.8,511.1) (870,582.8)};
\addplot[eM] coordinates {(962.4,535.7) (915.1,569)};
\addplot[eM] coordinates {(915.1,569) (962.4,587.9)};
\addplot[eM] coordinates {(870,582.8) (901,614.6)};
\addplot[eM] coordinates {(901,614.6) (892.9,666.7)};
\addplot[eM] coordinates {(841.1,640.7) (892.9,666.7)};
\addplot[eM] coordinates {(841.1,640.7) (866.2,697.7)};
\addplot[eM] coordinates {(841.1,640.7) (857.7,729.9)};
\addplot[eM] coordinates {(807,665.6) (857.7,729.9)};
\addplot[eM] coordinates {(857.7,729.9) (938,695.4)};
\addplot[eM] coordinates {(892.9,666.7) (928,729.9)};
\addplot[eM] coordinates {(1035.3,435.8) (1034.5,472.5)};
\addplot[eS] coordinates {(895.4,421.5) (902.8,482.9)};
\addplot[eS] coordinates {(855.9,544.5) (870,582.8)};
\addplot[eS] coordinates {(948.3,643) (892.9,666.7)};
\addplot[eS] coordinates {(892.9,666.7) (938,695.4)};
\addplot[eS] coordinates {(1034.5,472.5) (1036.4,523.1)};
\addplot[bM] coordinates {(1036.4,523.1) (1039,563.3)};
\addplot[bS] coordinates {(1040.1,607) (1041.6,649.5)};
\addplot[bT] coordinates {(1041.6,649.5) (1091.9,675.9)};
\addplot[bS] coordinates {(1041.6,649.5) (1027.9,712.7)};
% D nodes
\addplot[nC] coordinates {(895.4,421.5) (863.3,443.8) (926.1,456.9) (841.1,465.6) (1034.5,472.5)
  (902.8,511.1) (962.4,535.7) (855.9,544.5) (1039,563.3) (962.4,587.9) (1040.1,607)
  (901,614.6) (841.1,640.7) (948.3,643) (807,665.6) (1091.9,675.9) (938,695.4)
  (1027.9,712.7) (928,729.9)};
\addplot[nD] coordinates {(902.8,482.9) (1035.3,435.8) (1036.4,523.1) (915.1,569) (870,582.8)
  (1041.6,649.5) (892.9,666.7) (866.2,697.7) (857.7,729.9)};
% D labels
\node[dl] at (915,423.1) {Salmonella enterica};
\node[dl] at (880,442.7) {Citrobacter freundii};
\node[dl] at (962.4,456) {Klebsiella michiganensis};
\node[dl] at (852.2,466.3) {Klebsiella oxytoca};
\node[dg] at (907.7,485.2) {\textit{DLAT} (K00627)};
\node[dg] at (1040,435.8) {\textit{GCH1} (K01495)};
\node[dl] at (1082.3,470.9) {Bifidobacterium bifidum CAG:234};
\node[dl] at (903.2,508.2) {Streptococcus pneumoniae};
\node[dg] at (1054.9,518) {\textit{folP} (K00796)};
\node[dl] at (943.9,531.6) {Streptococcus sp. SR4};
\node[dl] at (842.9,547.2) {Streptococcus sp. HMSC064D12};
\node[dg] at (1040.1,562.2) {Dorea sp. 5-2};
\node[dg] at (928,569) {\textit{PDHA} (K00161)};
\node[dg] at (853.3,586.3) {\textit{PDHB} (K00162)};
\node[dl] at (997.2,587) {Streptococcus sp. ACS2};
\node[dl] at (1073.4,602.4) {Lachnospiraceae bacterium A4};
\node[dl] at (904,615.5) {Streptococcus salivarius};
\node[dl] at (852.2,635.7) {Lactobacillus amylovorus};
\node[dl] at (943.9,648.3) {Streptococcus thermophilus};
\node[dg] at (1074.1,642.6) {\textit{DLD} (K00382)};
\node[dl] at (815.9,663.7) {Lactobacillus gasseri};
\node[dg] at (915.1,673.6) {\textit{MVD} (K01597)};
\node[dl] at (1129.6,674.3) {Bacteroides pectinophilus};
\node[dg] at (847.7,695) {\textit{MVK} (K00869)};
\node[dl] at (983.5,691.3) {Lactobacillus taiwanensis};
\node[dl] at (1070.4,711.1) {Clostridiales bacterium 36\_14};
\node[dg] at (830,728.1) {\textit{E2.7.4.2} (K00938)};
\node[dl] at (970.5,727.2) {Lactobacillus helveticus};
% H edges
\addplot[eT] coordinates {(977.9,1319.3) (937,1356.7)};
\addplot[eT] coordinates {(937,1356.7) (993.6,1355.6)};
\addplot[eT] coordinates {(973.2,1389) (1023.5,1412.1)};
\addplot[eT] coordinates {(944.9,1413.3) (1023.5,1412.1)};
\addplot[eT] coordinates {(921.3,1441) (1023.5,1412.1)};
\addplot[eT] coordinates {(1110,1452.5) (1117.9,1484.8)};
\addplot[eM] coordinates {(937,1356.7) (973.2,1389)};
\addplot[eM] coordinates {(937,1356.7) (944.9,1413.3)};
\addplot[eM] coordinates {(937,1356.7) (921.3,1441)};
\addplot[eM] coordinates {(993.6,1355.6) (1023.5,1412.1)};
\addplot[eM] coordinates {(1018.2,1337.1) (1023.5,1412.1)};
\addplot[eM] coordinates {(1163.5,1426.4) (1160.4,1483.2)};
\addplot[eM] coordinates {(1117.9,1484.8) (1128.3,1511.4)};
\addplot[eM] coordinates {(937.6,1473.3) (964.7,1493.4)};
\addplot[eS] coordinates {(1023.5,1412.1) (1046.5,1364.8)};
\addplot[eS] coordinates {(1023.5,1412.1) (1056,1396)};
\addplot[eS] coordinates {(1023.5,1412.1) (1044,1435.2)};
\addplot[eS] coordinates {(1023.5,1412.1) (1000.5,1458.3)};
\addplot[eS] coordinates {(1141.5,1352.1) (1135.2,1404.7)};
\addplot[eS] coordinates {(1168.2,1376.3) (1135.2,1404.7)};
\addplot[eS] coordinates {(1135.2,1404.7) (1163.5,1426.4)};
\addplot[bT] coordinates {(1038.3,1498.7) (1043.3,1526.4)};
\addplot[bM] coordinates {(1043.3,1526.4) (1015.6,1545.5)};
\addplot[bT] coordinates {(1043.3,1526.4) (1085.5,1555.7)};
% H nodes
\addplot[nCh] coordinates {(977.9,1319.3) (1018.2,1337.1) (1141.5,1352.1) (993.6,1355.6)
  (1046.5,1364.8) (1168.2,1376.3) (973.2,1389) (1056,1396) (944.9,1413.3) (1163.5,1426.4)
  (1044,1435.2) (921.3,1441) (1110,1452.5) (1000.5,1458.3) (964.7,1493.4) (1038.3,1498.7)
  (1128.3,1511.4) (1015.6,1545.5) (1085.5,1555.7)};
\addplot[nDh] coordinates {(937,1356.7) (1135.2,1404.7) (1023.5,1412.1) (937.6,1473.3)
  (1117.9,1484.8) (1160.4,1483.2) (1043.3,1526.4)};
% H labels
\node[hl] at (981,1314) {Klebsiella aerogenes};
\node[hl] at (1029.8,1332.5) {Blautia producta};
\node[hl] at (1146.2,1341.7) {Bifidobacterium sp.};
\node[hl] at (1141.5,1351.5) {12\_1\_47BFAA};
\node[hg] at (918.1,1357.2) {\textit{yagT} (K13483)};
\node[hl] at (1011.9,1354.4) {Escherichia coli};
\node[hl] at (1071.6,1368.7) {Coprobacillus sp. 3\_3\_56FAA};
\node[hl] at (1195,1381) {Bifidobacterium longum};
\node[hl] at (974.7,1382.6) {Shigella flexneri};
\node[hl] at (1067.6,1391.3) {Coprobacillus sp. 8\_2\_54BFAA};
\node[hg] at (1154.1,1402.4) {\textit{purK} (K01589)};
\node[hl] at (939.5,1411) {Shigella sonnei};
\node[hg] at (1031.4,1414) {\textit{yagR} (K11177)};
\node[hl] at (1171.4,1419) {Bifidobacterium bifidum CAG:234};
\node[hl] at (1064.4,1432.4) {Erysipelatoclostridium ramosum};
\node[hl] at (914.3,1437.5) {Shigella dysenteriae};
\node[hl] at (1136.8,1446.3) {Bifidobacterium adolescentis};
\node[hl] at (978.5,1457.1) {Clostridiales bacterium VE202-18};
\node[hg] at (938.6,1473.3) {\textit{PFAS} (K01952)};
\node[hg] at (1099,1484.8) {\textit{allB} (K01466)};
\node[hg] at (1179.2,1475.6) {\textit{purM} (K01933)};
\node[hl] at (938.6,1490.6) {Megasphaera micronuciformis};
\node[hl] at (1058.1,1498) {Dorea sp. 5-2};
\node[hl] at (1149.3,1513.2) {Bifidobacterium ruminantium};
\node[hg] at (1044.6,1526.4) {\textit{purT} (K08289)};
\node[hl] at (977.9,1541.8) {Eubacterium sp. 14-2};
\node[hl] at (1118.8,1551) {Lachnospiraceae bacterium A4};
\end{axis}
\end{tikzpicture}
\end{document}
